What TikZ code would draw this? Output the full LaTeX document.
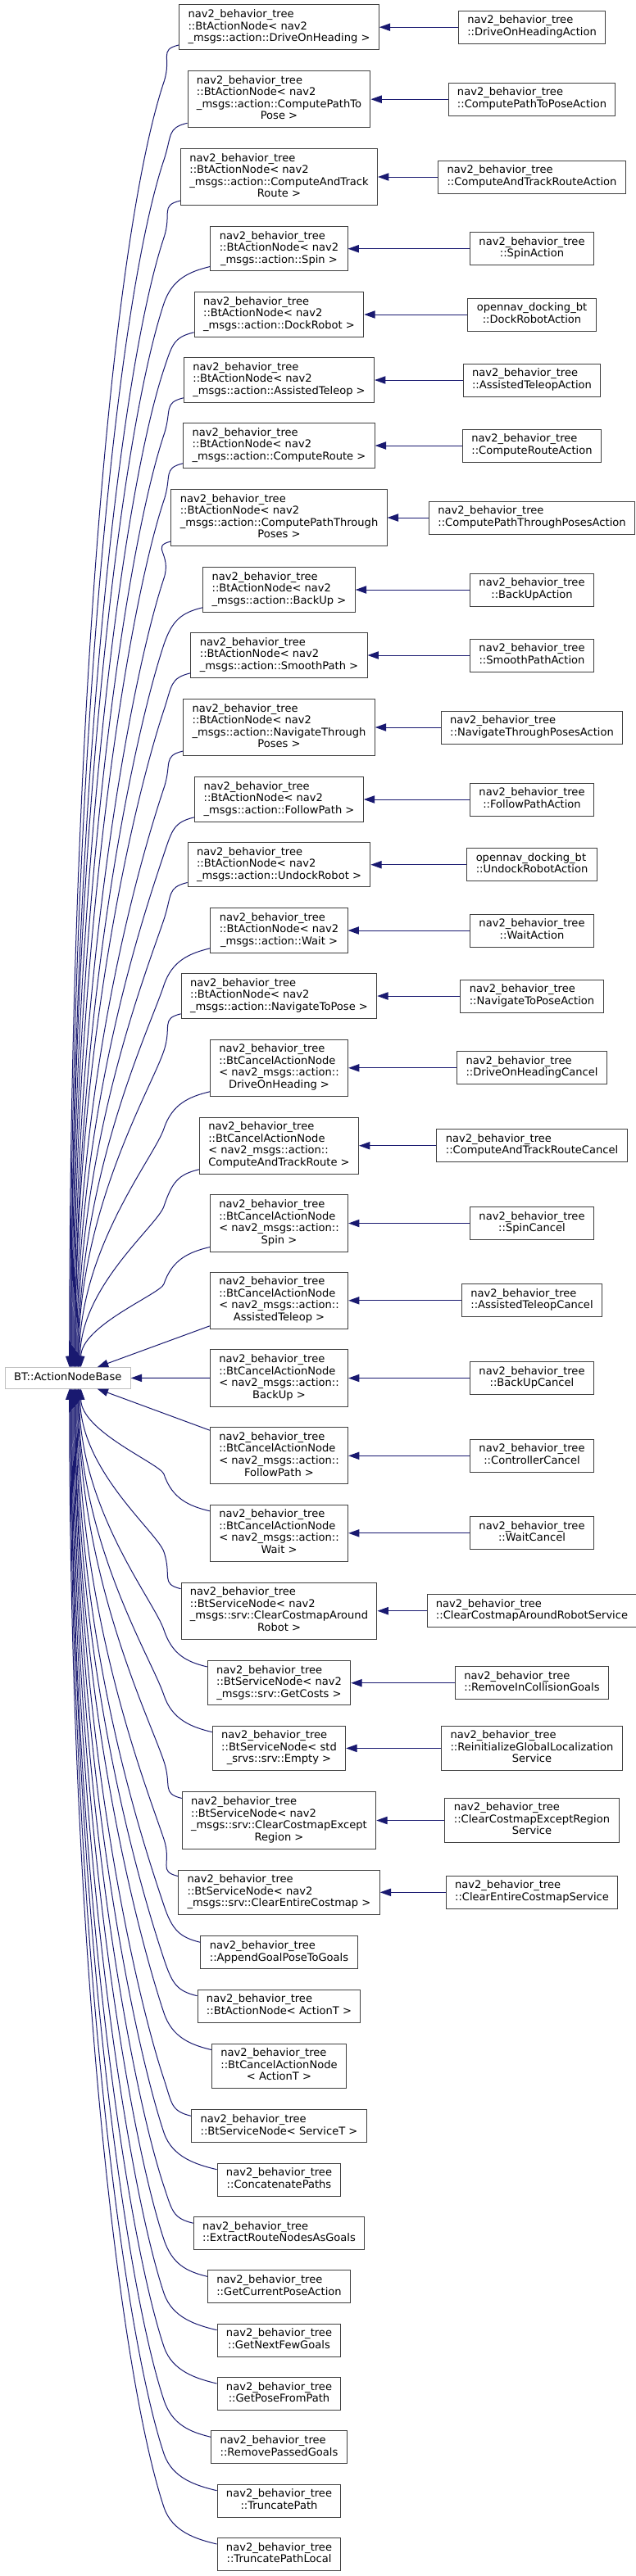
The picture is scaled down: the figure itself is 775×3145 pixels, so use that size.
\documentclass[tikz,border=0pt]{standalone}
\usepackage{fontspec}
\setmainfont{DejaVu Sans}
\usetikzlibrary{arrows.meta,calc}
\definecolor{dxedge}{RGB}{25,25,112}
\definecolor{dxline}{RGB}{64,64,64}
\definecolor{dxgrey}{RGB}{191,191,191}
\tikzstyle{cls} = [draw=dxline, fill=white, line width=0.75pt, inner xsep=8.2pt, inner ysep=4.1pt, font=\fontsize{9.8pt}{10.9pt}\selectfont]
\tikzstyle{extcls} = [cls, draw=dxgrey]
\tikzstyle{inh} = [line width=0.75pt, draw=dxedge, -{Triangle[length=10pt,width=7pt]}]
% all lines but the last one flush left, the last one centred
\newcommand{\cln}[2]{\begin{tabular}{@{}l@{}}#1\\\multicolumn{1}{@{}c@{}}{#2}\end{tabular}}

\begin{document}
\begin{tikzpicture}[x=0.75pt,y=0.75pt]
\fill[white] (0,0) rectangle (775,-3145);
\useasboundingbox (0,0) rectangle (775,-3145);
% base class
\node[extcls] (base) at (82.75,-1682.3) {\begin{tabular}{@{}c@{}}BT::ActionNodeBase\end{tabular}};
\coordinate (lane) at (200,0);

% derived classes
\node[cls] (a1) at (340.5,-33.2) {\cln{nav2\_behavior\_tree\\::BtActionNode< nav2}{\_msgs::action::DriveOnHeading >}};
\node[cls] (a2) at (340.5,-121.2) {\cln{nav2\_behavior\_tree\\::BtActionNode< nav2\\\_msgs::action::ComputePathTo}{Pose >}};
\node[cls] (a3) at (340.5,-216) {\cln{nav2\_behavior\_tree\\::BtActionNode< nav2\\\_msgs::action::ComputeAndTrack}{Route >}};
\node[cls] (a4) at (340.5,-303.7) {\cln{nav2\_behavior\_tree\\::BtActionNode< nav2}{\_msgs::action::Spin >}};
\node[cls] (a5) at (340.5,-384) {\cln{nav2\_behavior\_tree\\::BtActionNode< nav2}{\_msgs::action::DockRobot >}};
\node[cls] (a6) at (340.5,-464) {\cln{nav2\_behavior\_tree\\::BtActionNode< nav2}{\_msgs::action::AssistedTeleop >}};
\node[cls] (a7) at (340.5,-544) {\cln{nav2\_behavior\_tree\\::BtActionNode< nav2}{\_msgs::action::ComputeRoute >}};
\node[cls] (a8) at (340.5,-632) {\cln{nav2\_behavior\_tree\\::BtActionNode< nav2\\\_msgs::action::ComputePathThrough}{Poses >}};
\node[cls] (a9) at (340.5,-720) {\cln{nav2\_behavior\_tree\\::BtActionNode< nav2}{\_msgs::action::BackUp >}};
\node[cls] (a10) at (340.5,-800) {\cln{nav2\_behavior\_tree\\::BtActionNode< nav2}{\_msgs::action::SmoothPath >}};
\node[cls] (a11) at (340.5,-888) {\cln{nav2\_behavior\_tree\\::BtActionNode< nav2\\\_msgs::action::NavigateThrough}{Poses >}};
\node[cls] (a12) at (340.5,-976) {\cln{nav2\_behavior\_tree\\::BtActionNode< nav2}{\_msgs::action::FollowPath >}};
\node[cls] (a13) at (340.5,-1055.7) {\cln{nav2\_behavior\_tree\\::BtActionNode< nav2}{\_msgs::action::UndockRobot >}};
\node[cls] (a14) at (340.5,-1136) {\cln{nav2\_behavior\_tree\\::BtActionNode< nav2}{\_msgs::action::Wait >}};
\node[cls] (a15) at (340.5,-1216) {\cln{nav2\_behavior\_tree\\::BtActionNode< nav2}{\_msgs::action::NavigateToPose >}};
\node[cls] (c1) at (340.5,-1303.8) {\cln{nav2\_behavior\_tree\\::BtCancelActionNode\\< nav2\_msgs::action::}{DriveOnHeading >}};
\node[cls] (c2) at (340.5,-1398.7) {\cln{nav2\_behavior\_tree\\::BtCancelActionNode\\< nav2\_msgs::action::}{ComputeAndTrackRoute >}};
\node[cls] (c3) at (340.5,-1493.5) {\cln{nav2\_behavior\_tree\\::BtCancelActionNode\\< nav2\_msgs::action::}{Spin >}};
\node[cls] (c4) at (340.5,-1587.8) {\cln{nav2\_behavior\_tree\\::BtCancelActionNode\\< nav2\_msgs::action::}{AssistedTeleop >}};
\node[cls] (c5) at (340.5,-1682.5) {\cln{nav2\_behavior\_tree\\::BtCancelActionNode\\< nav2\_msgs::action::}{BackUp >}};
\node[cls] (c6) at (340.5,-1777.3) {\cln{nav2\_behavior\_tree\\::BtCancelActionNode\\< nav2\_msgs::action::}{FollowPath >}};
\node[cls] (c7) at (340.5,-1871.8) {\cln{nav2\_behavior\_tree\\::BtCancelActionNode\\< nav2\_msgs::action::}{Wait >}};
\node[cls] (s1) at (340.5,-1966.7) {\cln{nav2\_behavior\_tree\\::BtServiceNode< nav2\\\_msgs::srv::ClearCostmapAround}{Robot >}};
\node[cls] (s2) at (340.5,-2054.7) {\cln{nav2\_behavior\_tree\\::BtServiceNode< nav2}{\_msgs::srv::GetCosts >}};
\node[cls] (s3) at (340.5,-2134.4) {\cln{nav2\_behavior\_tree\\::BtServiceNode< std}{\_srvs::srv::Empty >}};
\node[cls] (s4) at (340.5,-2222.5) {\cln{nav2\_behavior\_tree\\::BtServiceNode< nav2\\\_msgs::srv::ClearCostmapExcept}{Region >}};
\node[cls] (s5) at (340.5,-2310.3) {\cln{nav2\_behavior\_tree\\::BtServiceNode< nav2}{\_msgs::srv::ClearEntireCostmap >}};
\node[cls] (l1) at (340.5,-2383.8) {\cln{nav2\_behavior\_tree}{::AppendGoalPoseToGoals}};
\node[cls] (l2) at (340.5,-2449.2) {\cln{nav2\_behavior\_tree}{::BtActionNode< ActionT >}};
\node[cls] (l3) at (340.5,-2522.3) {\cln{nav2\_behavior\_tree\\::BtCancelActionNode}{< ActionT >}};
\node[cls] (l4) at (340.5,-2595.8) {\cln{nav2\_behavior\_tree}{::BtServiceNode< ServiceT >}};
\node[cls] (l5) at (340.5,-2661.2) {\cln{nav2\_behavior\_tree}{::ConcatenatePaths}};
\node[cls] (l6) at (340.5,-2726.7) {\cln{nav2\_behavior\_tree}{::ExtractRouteNodesAsGoals}};
\node[cls] (l7) at (340.5,-2791.8) {\cln{nav2\_behavior\_tree}{::GetCurrentPoseAction}};
\node[cls] (l8) at (340.5,-2857.2) {\cln{nav2\_behavior\_tree}{::GetNextFewGoals}};
\node[cls] (l9) at (340.5,-2922.5) {\cln{nav2\_behavior\_tree}{::GetPoseFromPath}};
\node[cls] (l10) at (340.5,-2987.8) {\cln{nav2\_behavior\_tree}{::RemovePassedGoals}};
\node[cls] (l11) at (340.5,-3053.2) {\cln{nav2\_behavior\_tree}{::TruncatePath}};
\node[cls] (l12) at (340.5,-3118.5) {\cln{nav2\_behavior\_tree}{::TruncatePathLocal}};

% concrete classes
\node[cls] (ra1) at (649,-33.2) {\cln{nav2\_behavior\_tree}{::DriveOnHeadingAction}};
\node[cls] (ra2) at (649,-121.2) {\cln{nav2\_behavior\_tree}{::ComputePathToPoseAction}};
\node[cls] (ra3) at (649,-216) {\cln{nav2\_behavior\_tree}{::ComputeAndTrackRouteAction}};
\node[cls] (ra4) at (649,-303.7) {\cln{nav2\_behavior\_tree}{::SpinAction}};
\node[cls] (ra5) at (649,-384) {\cln{opennav\_docking\_bt}{::DockRobotAction}};
\node[cls] (ra6) at (649,-464) {\cln{nav2\_behavior\_tree}{::AssistedTeleopAction}};
\node[cls] (ra7) at (649,-544) {\cln{nav2\_behavior\_tree}{::ComputeRouteAction}};
\node[cls] (ra8) at (649,-632) {\cln{nav2\_behavior\_tree}{::ComputePathThroughPosesAction}};
\node[cls] (ra9) at (649,-720) {\cln{nav2\_behavior\_tree}{::BackUpAction}};
\node[cls] (ra10) at (649,-800) {\cln{nav2\_behavior\_tree}{::SmoothPathAction}};
\node[cls] (ra11) at (649,-888) {\cln{nav2\_behavior\_tree}{::NavigateThroughPosesAction}};
\node[cls] (ra12) at (649,-976) {\cln{nav2\_behavior\_tree}{::FollowPathAction}};
\node[cls] (ra13) at (649,-1055.7) {\cln{opennav\_docking\_bt}{::UndockRobotAction}};
\node[cls] (ra14) at (649,-1136) {\cln{nav2\_behavior\_tree}{::WaitAction}};
\node[cls] (ra15) at (649,-1216) {\cln{nav2\_behavior\_tree}{::NavigateToPoseAction}};
\node[cls] (rc1) at (649,-1303.8) {\cln{nav2\_behavior\_tree}{::DriveOnHeadingCancel}};
\node[cls] (rc2) at (649,-1398.7) {\cln{nav2\_behavior\_tree}{::ComputeAndTrackRouteCancel}};
\node[cls] (rc3) at (649,-1493.5) {\cln{nav2\_behavior\_tree}{::SpinCancel}};
\node[cls] (rc4) at (649,-1587.8) {\cln{nav2\_behavior\_tree}{::AssistedTeleopCancel}};
\node[cls] (rc5) at (649,-1682.5) {\cln{nav2\_behavior\_tree}{::BackUpCancel}};
\node[cls] (rc6) at (649,-1777.3) {\cln{nav2\_behavior\_tree}{::ControllerCancel}};
\node[cls] (rc7) at (649,-1871.8) {\cln{nav2\_behavior\_tree}{::WaitCancel}};
\node[cls] (rs1) at (649,-1966.7) {\cln{nav2\_behavior\_tree}{::ClearCostmapAroundRobotService}};
\node[cls] (rs2) at (649,-2054.7) {\cln{nav2\_behavior\_tree}{::RemoveInCollisionGoals}};
\node[cls] (rs3) at (649,-2134.4) {\cln{nav2\_behavior\_tree\\::ReinitializeGlobalLocalization}{Service}};
\node[cls] (rs4) at (649,-2222.5) {\cln{nav2\_behavior\_tree\\::ClearCostmapExceptRegion}{Service}};
\node[cls] (rs5) at (649,-2310.3) {\cln{nav2\_behavior\_tree}{::ClearEntireCostmapService}};

% concrete -> template
\foreach \cl in {a1,a2,a3,a4,a5,a6,a7,a8,a9,a10,a11,a12,a13,a14,a15,c1,c2,c3,c4,c5,c6,c7,s1,s2,s3,s4,s5}
  \draw[inh] (r\cl) -- (\cl);

% classes above the base
\foreach \cl/\tip in {a1/84,a2/85,a3/86,a4/86,a5/87,a6/88,a7/89,a8/90,a9/91,a10/91,a11/92,a12/93,a13/94,a14/95,a15/95,c1/96,c2/97,c3/98} {
  \coordinate (s) at ($(\cl.south west)+(0,6)$);
  \coordinate (sd) at ($(s)+(0,-45)$);
  \coordinate (p) at (sd -| lane);
  \coordinate (e) at ($(base.north west)+(\tip-5,0)$);
  \coordinate (m) at ($(p)!0.5!(e)$);
  \draw[inh] let \p1=(p), \p2=(e), \n1={\y1-\y2} in
    (s) .. controls +(-25,-6) and +(10,30) .. (p)
        .. controls ($(p)+(-0.04*\n1,-0.12*\n1)$) and (e |- m) .. (e);
}
% classes below the base
\foreach \cl/\tip in {c7/98,s1/97,s2/96,s3/95,s4/95,s5/94,l1/93,l2/92,l3/91,l4/91,l5/90,l6/89,l7/88,l8/87,l9/86,l10/86,l11/85,l12/84} {
  \coordinate (s) at ($(\cl.north west)+(0,-8)$);
  \coordinate (sd) at ($(s)+(0,45)$);
  \coordinate (p) at (sd -| lane);
  \coordinate (e) at ($(base.south west)+(\tip-5,0)$);
  \coordinate (m) at ($(p)!0.5!(e)$);
  \draw[inh] let \p1=(p), \p2=(e), \n1={\y2-\y1} in
    (s) .. controls +(-25,6) and +(10,-30) .. (p)
        .. controls ($(p)+(-0.04*\n1,0.12*\n1)$) and (e |- m) .. (e);
}
% the three nearest ones
\draw[inh] (c4) -- (base);
\draw[inh] (c5) -- (base);
\draw[inh] (c6) -- (base);
\end{tikzpicture}
\end{document}
